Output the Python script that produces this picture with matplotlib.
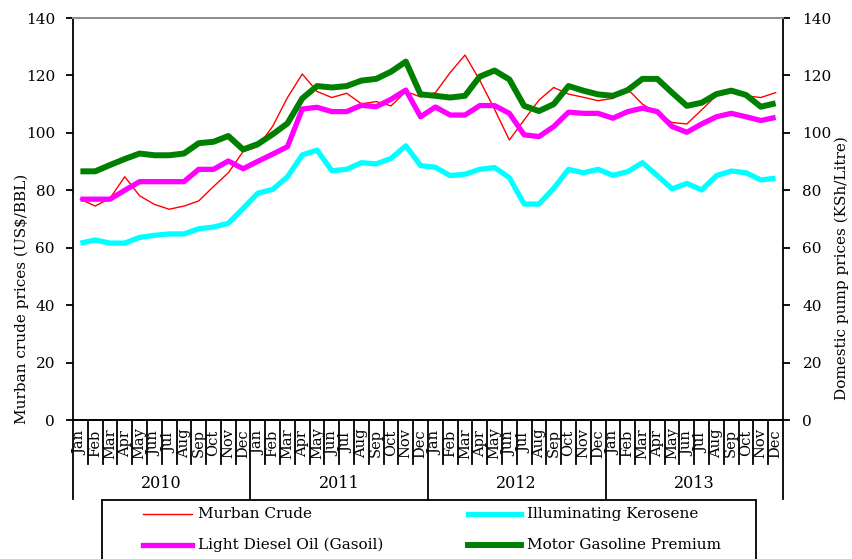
import matplotlib.pyplot as plt
from matplotlib.lines import Line2D
from matplotlib.patches import Rectangle

years = ['2010', '2011', '2012', '2013']
months = ['Jan', 'Feb', 'Mar', 'Apr', 'May', 'Jun',
          'Jul', 'Aug', 'Sep', 'Oct', 'Nov', 'Dec']

# Murban crude, US$/BBL (left axis)
murban = [76.9, 74.5, 77.2, 84.7, 78.1, 75.1, 73.4, 74.5, 76.3, 81.3, 86.1, 93.5,
          95.2, 102.3, 112.3, 120.5, 114.4, 112.3, 113.8, 110.1, 110.9, 109.4, 114.4, 112.5,
          114.0, 121.0, 127.1, 118.3, 108.2, 97.5, 104.5, 111.4, 115.8, 113.5, 112.4, 111.2,
          112.0, 115.2, 110.0, 106.8, 103.6, 103.1, 108.0, 113.0, 114.0, 112.9, 112.3, 114.0]

# pump prices, KSh/Litre (right axis)
kerosene = [61.6, 62.7, 61.6, 61.6, 63.6, 64.3, 64.8, 64.8, 66.6, 67.2, 68.5, 73.7,
            79.0, 80.3, 84.7, 92.3, 94.0, 86.8, 87.3, 89.6, 89.2, 91.1, 95.5, 88.6,
            88.0, 85.1, 85.6, 87.3, 87.9, 84.4, 75.2, 75.2, 80.7, 87.3, 86.1, 87.3,
            85.2, 86.5, 89.6, 85.1, 80.5, 82.4, 80.1, 85.1, 86.7, 86.1, 83.6, 84.2]
diesel = [76.9, 76.9, 76.9, 80.0, 83.0, 83.0, 83.0, 83.0, 87.3, 87.3, 90.2, 87.5,
          90.1, 92.6, 95.2, 108.3, 108.9, 107.4, 107.4, 109.6, 109.1, 111.7, 114.9, 105.6,
          109.0, 106.2, 106.2, 109.5, 109.5, 106.8, 99.3, 98.7, 102.2, 107.2, 106.8, 106.8,
          105.1, 107.4, 108.6, 107.4, 102.2, 100.2, 103.1, 105.6, 106.8, 105.6, 104.3, 105.4]
gasoline = [86.6, 86.6, 88.8, 90.9, 92.8, 92.2, 92.2, 92.8, 96.4, 96.9, 98.9, 94.2,
            96.1, 99.5, 103.3, 112.0, 116.3, 115.8, 116.3, 118.2, 118.8, 121.3, 124.8, 113.4,
            112.9, 112.3, 112.9, 119.6, 121.7, 118.6, 109.4, 107.6, 110.0, 116.3, 114.7, 113.4,
            112.9, 114.9, 118.8, 118.8, 114.0, 109.4, 110.5, 113.5, 114.7, 113.2, 109.1, 110.3]

W, H = 853, 559


def fx(px):
    return px / W


def fy(py):
    return 1 - py / H


plt.rcParams['font.family'] = 'DejaVu Serif'
plt.rcParams['font.size'] = 11

fig = plt.figure(figsize=(W / 100, H / 100), dpi=100)
ax = fig.add_axes([fx(73), fy(420), (783 - 73) / W, (420 - 18) / H])
ax2 = ax.twinx()

x = list(range(len(murban)))
ax.plot(x, murban, color='#FF0000', lw=1.0)
ax2.plot(x, kerosene, color='#00FFFF', lw=3.8, solid_capstyle='butt')
ax2.plot(x, diesel, color='#FF00FF', lw=3.8, solid_capstyle='butt')
ax2.plot(x, gasoline, color='#008000', lw=4.3, solid_capstyle='butt')

for a in (ax, ax2):
    a.set_ylim(0, 140)
    a.set_yticks(range(0, 141, 20))
    a.set_xlim(-0.5, len(murban) - 0.5)
    a.tick_params(axis='x', bottom=False, labelbottom=False)
    a.spines['top'].set_color('#8c8c8c')
    a.spines['top'].set_linewidth(1.3)
    a.spines['bottom'].set_linewidth(1.3)

ax.spines['right'].set_visible(False)
ax2.spines['left'].set_visible(False)
ax.spines['left'].set_linewidth(1.3)
ax2.spines['right'].set_linewidth(1.3)
ax.tick_params(axis='y', direction='out', length=5, width=1.3, pad=8)
ax2.tick_params(axis='y', direction='out', length=5, width=1.3, pad=9)

# two-level category axis: months, then years
xt = ax.get_xaxis_transform()
n = len(months)
for b in range(len(murban) + 1):
    low = -0.197 if b % n == 0 else -0.109
    ax.plot([b - 0.5, b - 0.5], [0, low], transform=xt, clip_on=False,
            color='black', lw=1.3)
for i in x:
    ax.text(i, -0.058, months[i % n], transform=xt, rotation=90,
            ha='center', va='center', fontsize=10.5)
for k, yr in enumerate(years):
    ax.text(k * n + (n - 1) / 2, -0.157, yr, transform=xt,
            ha='center', va='center', fontsize=11.5)

fig.text(fx(22), fy(299), 'Murban crude prices (US$/BBL)', rotation=90,
         ha='center', va='center', fontsize=11)
fig.text(fx(842), fy(268), 'Domestic pump prices (KSh/Litre)', rotation=90,
         ha='center', va='center', fontsize=11)

# legend box, cut by the bottom edge as in the source
fig.add_artist(Rectangle((fx(102), fy(580)), (756 - 102) / W, (580 - 500) / H,
                         transform=fig.transFigure, fill=False,
                         ec='black', lw=1.3))
entries = [('Murban Crude', '#FF0000', 1.0, 143, 192, 514),
           ('Illuminating Kerosene', '#00FFFF', 3.8, 468, 521, 514),
           ('Light Diesel Oil (Gasoil)', '#FF00FF', 3.8, 143, 192, 545),
           ('Motor Gasoline Premium', '#008000', 4.3, 468, 521, 545)]
for label, color, lw, x0, x1, yy in entries:
    fig.add_artist(Line2D([fx(x0), fx(x1)], [fy(yy), fy(yy)],
                          transform=fig.transFigure, color=color, lw=lw))
    fig.text(fx(x1 + 6), fy(yy), label, ha='left', va='center', fontsize=11)

fig.savefig('out.png', dpi=100)
